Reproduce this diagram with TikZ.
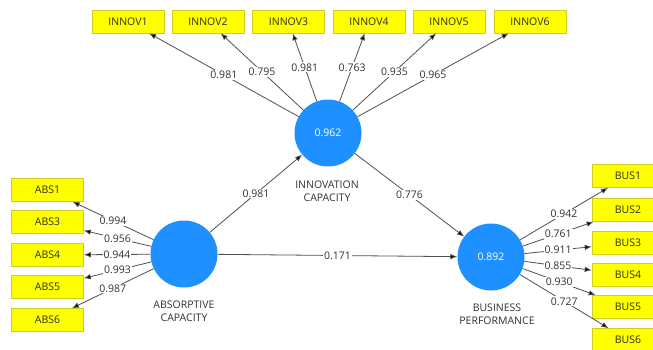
\documentclass[tikz,border=0pt]{standalone}
\usepackage{fontspec}
\setmainfont{Open Sans}
\usetikzlibrary{arrows.meta}
\definecolor{boxfill}{RGB}{255,255,0}
\definecolor{boxline}{RGB}{205,205,40}
\definecolor{boxtext}{RGB}{45,45,25}
\definecolor{lvblue}{RGB}{30,144,255}
\definecolor{linegray}{RGB}{80,80,80}
\definecolor{labelgray}{RGB}{50,50,50}
\begin{document}
\begin{tikzpicture}[x=1pt,y=-1pt,
  ind/.style={draw=boxline, fill=boxfill, line width=0.6pt, minimum width=72pt, minimum height=23pt, inner sep=0pt, text=boxtext, font=\fontsize{10.5}{12}\selectfont},
  lv/.style={circle, fill=lvblue, minimum size=67pt, inner sep=0pt, text=white, font=\fontsize{10.5}{12}\selectfont},
  ld/.style={draw=linegray, line width=0.8pt, -{Latex[length=7pt,width=5.5pt,fill=black]}},
  wl/.style={fill=white, inner sep=1pt, text=labelgray, font=\fontsize{10.5}{12}\selectfont},
  lvcaption/.style={align=center, text=labelgray, font=\fontsize{10.5}{13.5}\selectfont}
]
\useasboundingbox (0,0) rectangle (653,349);
\clip (0,0) rectangle (653,349);
\fill[white] (0,0) rectangle (653,349);

% latent variables
\node[lv] (inn) at (328,133) {0.962};
\node[lv] (abs) at (184,254) {};
\node[lv] (bus) at (491,257) {0.892};

\node[lvcaption] (innc) at (327,191) {INNOVATION\\CAPACITY};
\node[lvcaption] (absc) at (184,311) {ABSORPTIVE\\CAPACITY};
\node[lvcaption] (busc) at (497,314) {BUSINESS\\PERFORMANCE};

% innovation indicators
\node[ind] (i1) at (128,21.5) {INNOV1};
\node[ind] (i2) at (208,21.5) {INNOV2};
\node[ind] (i3) at (288.5,21.5) {INNOV3};
\node[ind] (i4) at (369,21.5) {INNOV4};
\node[ind] (i5) at (449,21.5) {INNOV5};
\node[ind] (i6) at (530,21.5) {INNOV6};

% absorptive indicators
\node[ind] (a1) at (47.5,190) {ABS1};
\node[ind] (a3) at (47.5,222) {ABS3};
\node[ind] (a4) at (47.5,255) {ABS4};
\node[ind] (a5) at (47.5,287) {ABS5};
\node[ind] (a6) at (47.5,320) {ABS6};

% business indicators
\node[ind] (b1) at (628,176) {BUS1};
\node[ind] (b2) at (628,210) {BUS2};
\node[ind] (b3) at (628,243) {BUS3};
\node[ind] (b4) at (628,275) {BUS4};
\node[ind] (b5) at (628,307) {BUS5};
\node[ind] (b6) at (628,340) {BUS6};

% loadings
\draw[ld] (inn) -- node[wl]{0.981} (i1);
\draw[ld] (inn) -- node[wl]{0.795} (i2);
\draw[ld] (inn) -- node[wl]{0.981} (i3);
\draw[ld] (inn) -- node[wl]{0.763} (i4);
\draw[ld] (inn) -- node[wl]{0.935} (i5);
\draw[ld] (inn) -- node[wl]{0.965} (i6);

\draw[ld] (abs) -- node[wl]{0.994} (a1);
\draw[ld] (abs) -- node[wl]{0.956} (a3);
\draw[ld] (abs) -- node[wl]{0.944} (a4);
\draw[ld] (abs) -- node[wl]{0.993} (a5);
\draw[ld] (abs) -- node[wl]{0.987} (a6);

\draw[ld] (bus) -- node[wl]{0.942} (b1);
\draw[ld] (bus) -- node[wl]{0.761} (b2);
\draw[ld] (bus) -- node[wl]{0.911} (b3);
\draw[ld] (bus) -- node[wl]{0.855} (b4);
\draw[ld] (bus) -- node[wl]{0.930} (b5);
\draw[ld] (bus) -- node[wl]{0.727} (b6);

% structural paths
\draw[ld] (abs) -- node[wl]{0.981} (inn);
\draw[ld] (inn) -- node[wl]{0.776} (bus);
\draw[ld] (abs) -- node[wl]{0.171} (bus);
\end{tikzpicture}
\end{document}
